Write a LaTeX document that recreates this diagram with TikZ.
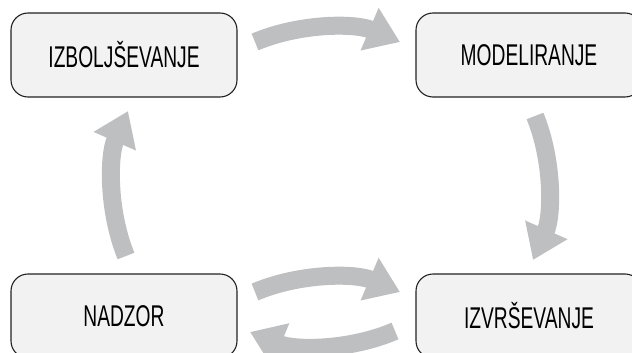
\documentclass[tikz,border=0pt]{standalone}
\usepackage{fontspec}
\setmainfont{Liberation Sans}
\newfontfamily\condfont[FakeStretch=0.64]{Liberation Sans}
\usetikzlibrary{arrows.meta,calc}
\definecolor{boxfill}{HTML}{F2F2F2}
\definecolor{boxline}{HTML}{222222}
\definecolor{arrowgray}{HTML}{BEBFC1}
\begin{document}
\begin{tikzpicture}[x=1pt,y=-1pt,
  stage/.style={draw=boxline, line width=1.1pt, fill=boxfill, rounded corners=17pt,
    minimum width=226pt, minimum height=84pt, inner sep=0pt,
    font=\condfont\fontsize{30}{30}\selectfont},
  bigarrow/.style={draw=arrowgray, line width=18pt, -{Triangle[length=33pt,width=44pt]}}]
\useasboundingbox (0,0) rectangle (632,353);
\clip (0,0) rectangle (632,353);
\node[stage] (izb) at (124,55) {IZBOLJŠEVANJE};
\node[stage] (mod) at (529,55) {MODELIRANJE};
\node[stage] (nad) at (124,316) {NADZOR};
\node[stage] (izv) at (529,316) {IZVRŠEVANJE};
% arrow endpoints
\coordinate (s1) at ($(izb.center)+(131,-13)$);
\coordinate (t1) at ($(mod.center)+(-129,-13)$);
\coordinate (s2) at ($(mod.center)+(6,61)$);
\coordinate (t2) at ($(izv.center)+(4,-56)$);
\coordinate (s3) at ($(nad.center)+(131,-24)$);
\coordinate (t3) at ($(izv.center)+(-129,-24)$);
\coordinate (s4) at ($(izv.center)+(-134,15)$);
\coordinate (t4) at ($(nad.center)+(126,16)$);
\coordinate (s5) at ($(nad.center)+(2,-60)$);
\coordinate (t5) at ($(izb.center)+(4,56)$);
\foreach \i in {1,...,5}{
  \draw[bigarrow] (s\i) .. controls ($(s\i)!0.31!(t\i)!19pt!90:(t\i)$)
    and ($(s\i)!0.69!(t\i)!19pt!90:(t\i)$) .. (t\i);
}
\end{tikzpicture}
\end{document}
